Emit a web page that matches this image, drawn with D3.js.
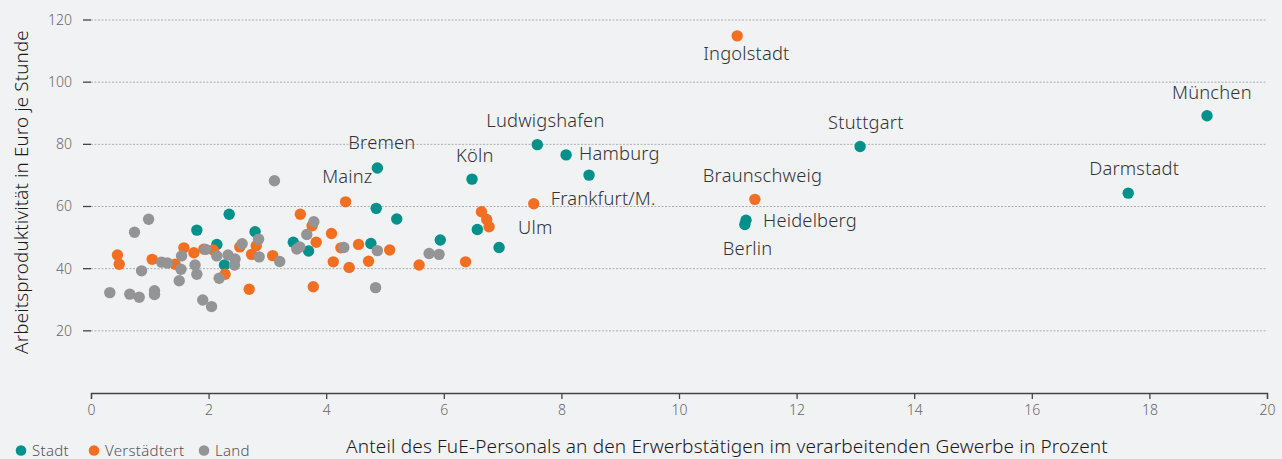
<!DOCTYPE html>
<html><head><meta charset="utf-8">
<script src="https://cdn.jsdelivr.net/npm/d3@7"></script>
<style>
html,body{margin:0;padding:0;background:#f1f2f4;}
svg{display:block;font-family:"Noto Sans",sans-serif;}
</style></head>
<body><svg id="c" width="1282" height="459"></svg>
<script>
// ---- data ----
const seriesNames = ["Stadt", "Verstädtert", "Land"];
const seriesColors = ["#00918a", "#f26f22", "#949497"];
const xTicks = [0,2,4,6,8,10,12,14,16,18,20];
const yTicks = [20,40,60,80,100,120];
const xTitle = "Anteil des FuE-Personals an den Erwerbstätigen im verarbeitenden Gewerbe in Prozent";
const yTitle = "Arbeitsproduktivität in Euro je Stunde";

// [x, y, name]
const stadt = [
  [18.98,89.2,"München"],[13.08,79.3,"Stuttgart"],[17.64,64.3,"Darmstadt"],
  [11.14,55.6,"Heidelberg"],[11.12,54.2,"Berlin"],[8.08,76.6,"Hamburg"],
  [8.47,70.1],[7.59,79.9,"Ludwigshafen"],[6.48,68.8,"Köln"],[4.87,72.4,"Bremen"],
  [4.85,59.4,"Mainz"],[5.20,56.0],[6.94,46.8,"Ulm"],[6.57,52.6],[5.94,49.2],
  [4.76,48.1],[3.44,48.5],[3.70,45.7],[2.79,51.9],[2.35,57.5],[1.80,52.4],
  [2.14,47.8],[2.27,41.2]
];
const verstaedtert = [
  [10.99,114.9,"Ingolstadt"],[11.29,62.3,"Braunschweig"],[7.53,60.9,"Frankfurt/M."],
  [6.64,58.3],[6.73,55.8],[6.77,53.5],[6.37,42.2],[5.58,41.2],[5.08,46.0],
  [4.72,42.4],[4.55,47.8],[4.39,40.4],[4.25,46.7],[4.12,42.2],[4.09,51.3],
  [4.33,61.5],[3.56,57.5],[3.76,53.8],[3.83,48.5],[3.78,34.2],[3.09,44.2],
  [2.81,47.4],[2.73,44.6],[2.53,47.0],[2.69,33.4],[2.28,38.2],[2.08,46.0],
  [1.92,46.3],[1.75,45.1],[1.58,46.7],[1.43,41.4],[1.04,43.0],[0.45,44.4],[0.48,41.4]
];
const land = [
  [3.12,68.3],[0.98,55.9],[0.74,51.7],[0.86,39.3],[0.32,32.3],[0.66,31.8],
  [0.82,30.8],[1.08,32.9],[1.08,31.7],[1.20,42.1],[1.30,41.8],[1.53,39.8],
  [1.50,36.1],[1.54,44.1],[1.77,41.2],[1.80,38.2],[1.95,46.2],[2.14,44.1],
  [1.90,29.9],[2.05,27.8],[2.18,36.9],[3.79,55.1],[3.67,51.0],[2.85,49.5],
  [2.86,43.8],[3.21,42.3],[2.33,44.4],[2.45,43.1],[2.57,48.0],[2.44,41.2],
  [3.50,46.3],[3.55,47.0],[4.30,46.8],[4.87,45.8],[4.84,33.9],[5.75,44.9],[5.92,44.6]
];
const allSeries = [stadt, verstaedtert, land];

// ---- label placement (style) ----
const labelOffset = {
  "München":[-35,-17], "Stuttgart":[-32,-18], "Darmstadt":[-39,-18],
  "Heidelberg":[17,7], "Berlin":[-22,30], "Hamburg":[13,5],
  "Ludwigshafen":[-51,-18], "Köln":[-16,-17], "Bremen":[-29,-19],
  "Mainz":[-54,-25], "Ulm":[19,-14], "Ingolstadt":[-34,24],
  "Braunschweig":[-52,-17], "Frankfurt/M.":[17,1]
};

// ---- layout ----
const svg = d3.select("#c");
const x = d3.scaleLinear().domain([0,20]).range([91,1267]);
const y = d3.scaleLinear().domain([0,120]).range([393,20]);

// grid + y ticks
const gy = svg.append("g");
yTicks.forEach(t => {
  gy.append("line").attr("x1",x(0)).attr("x2",1267).attr("y1",y(t)).attr("y2",y(t))
    .attr("stroke","#aeaeb0").attr("stroke-width",1).attr("stroke-dasharray","2,1.5");
  gy.append("line").attr("x1",83).attr("x2",91).attr("y1",y(t)).attr("y2",y(t))
    .attr("stroke","#444").attr("stroke-width",1.3);
  gy.append("text").attr("x",72).attr("y",y(t)).attr("dy","0.35em")
    .attr("text-anchor","end").attr("font-size",14).attr("font-weight",300)
    .attr("fill","#666").text(t);
});

// x axis
const xAxis = d3.axisBottom(x).tickValues(xTicks).tickSize(6).tickSizeOuter(6).tickPadding(6);
const gx = svg.append("g").attr("transform","translate(0,393)").call(xAxis);
gx.select(".domain").attr("stroke","#444").attr("stroke-width",1.3);
gx.selectAll(".tick line").attr("stroke","#444").attr("stroke-width",1.3);
gx.selectAll(".tick text").attr("font-size",14).attr("fill","#666").attr("font-weight",300)
  .attr("font-family","Noto Sans, sans-serif");

// points
allSeries.forEach((s,i) => {
  svg.append("g").selectAll("circle").data(s).join("circle")
    .attr("cx",d=>x(d[0])).attr("cy",d=>y(d[1])).attr("r",5.7)
    .attr("fill",seriesColors[i]);
});

// labels
allSeries.forEach(s => {
  svg.append("g").selectAll("text").data(s.filter(d=>d[2])).join("text")
    .attr("x",d=>x(d[0])+labelOffset[d[2]][0])
    .attr("y",d=>y(d[1])+labelOffset[d[2]][1])
    .attr("font-size",18.3).attr("letter-spacing",0.2).attr("font-weight",300)
    .attr("fill","#333").text(d=>d[2]);
});

// titles
svg.append("text").attr("x",727).attr("y",453).attr("text-anchor","middle")
  .attr("font-size",19).attr("letter-spacing",0.15).attr("font-weight",300)
  .attr("fill","#1a1a1a").text(xTitle);
svg.append("text").attr("transform","translate(28,192) rotate(-90)")
  .attr("text-anchor","middle").attr("font-size",18.8).attr("letter-spacing",0.15)
  .attr("font-weight",300).attr("fill","#1a1a1a").text(yTitle);

// legend
const legX = [21, 94, 204];
seriesNames.forEach((n,i) => {
  svg.append("circle").attr("cx",legX[i]).attr("cy",450.5).attr("r",5.3).attr("fill",seriesColors[i]);
  svg.append("text").attr("x",legX[i]+11).attr("y",455.5).attr("font-size",15)
    .attr("letter-spacing",0.3).attr("font-weight",300).attr("fill","#555").text(n);
});
</script></body></html>
